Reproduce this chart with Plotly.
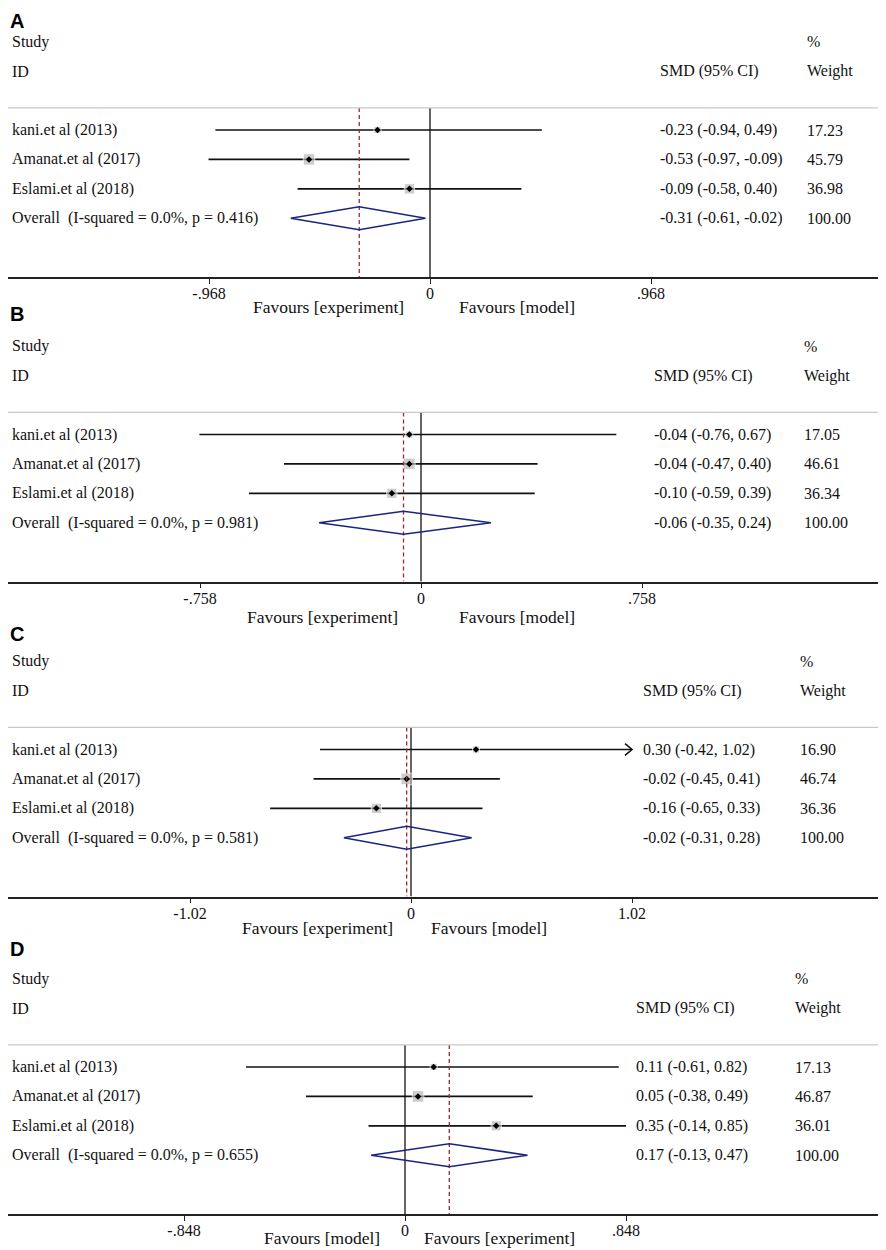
import math
import plotly.graph_objects as go

# study rows shared by all four forest plots
studies = ["kani.et al (2013)", "Amanat.et al (2017)", "Eslami.et al (2018)"]
panel_labels = ["A", "B", "C", "D"]

smd = [[-0.23, -0.53, -0.09], [-0.04, -0.04, -0.10], [0.30, -0.02, -0.16], [0.11, 0.05, 0.35]]
ci_low = [[-0.94, -0.97, -0.58], [-0.76, -0.47, -0.59], [-0.42, -0.45, -0.65], [-0.61, -0.38, -0.14]]
ci_high = [[0.49, -0.09, 0.40], [0.67, 0.40, 0.39], [1.02, 0.41, 0.33], [0.82, 0.49, 0.85]]
weights = [[17.23, 45.79, 36.98], [17.05, 46.61, 36.34], [16.90, 46.74, 36.36], [17.13, 46.87, 36.01]]
# intervals drawn with an arrow because they run off the scale
arrow_right = [[False, False, False], [False, False, False], [True, False, False], [False, False, False]]
pooled = [-0.31, -0.06, -0.02, 0.17]
pooled_low = [-0.61, -0.35, -0.31, -0.13]
pooled_high = [-0.02, 0.24, 0.28, 0.47]
i_squared = [0.0, 0.0, 0.0, 0.0]
p_values = [0.416, 0.981, 0.581, 0.655]
axis_max = [0.968, 0.758, 1.02, 0.848]
favours_left = ["Favours [experiment]", "Favours [experiment]", "Favours [experiment]", "Favours [model]"]
favours_right = ["Favours [model]", "Favours [model]", "Favours [model]", "Favours [experiment]"]

# page geometry, in pixels of the 886x1250 window (body margin of 8px taken off)
OFF = 8
W, H = 886 - OFF, 1250 - OFF
ROW = 29.4
zero_px = [430, 421, 411, 405]
tick_px = [651, 642, 632, 626]
axis_px = [277, 581.5, 896.5, 1214]
smd_col_px = [658, 652, 641, 634]
wt_col_px = [805, 802, 798, 793]
fav_y_px = [307, 617, 928, 1238]
fav_left_px = [328, 322, 317, 322]
fav_right_px = [517, 517, 489, 499]
letter_y_px = [12, 314, 634, 949]

SERIF = "Liberation Serif, Times New Roman, serif"
TXT = "#111111"
NAVY = "#1b2580"
RED = "#a3262c"


def tick_fmt(v):
    s = f"{v:g}"
    return s.replace("0.", ".", 1) if s.lstrip("-").startswith("0.") else s


def px_x(px):
    return (px - OFF) / W


def px_y(px):
    return 1 - (px - OFF) / H


fig = go.Figure()
annotations = []
shapes = []
layout = {}

for i in range(4):
    xa = "x" if i == 0 else f"x{i + 1}"
    ya = "y" if i == 0 else f"y{i + 1}"
    scale = (tick_px[i] - zero_px[i]) / axis_max[i]
    rows = list(range(len(studies)))
    overall_row = len(studies)

    # confidence intervals
    xs, ys = [], []
    for r in rows:
        xs += [ci_low[i][r], min(ci_high[i][r], axis_max[i]), None]
        ys += [r, r, None]
    fig.add_trace(go.Scatter(x=xs, y=ys, mode="lines", xaxis=xa, yaxis=ya,
                             line=dict(color="#111111", width=1.7), hoverinfo="skip"))

    # arrow where the interval runs off the scale
    for r in rows:
        if arrow_right[i][r]:
            end = axis_max[i]
            dx = 7 / scale
            fig.add_trace(go.Scatter(x=[end - dx, end, end - dx], y=[r - 0.2, r, r + 0.2],
                                     mode="lines", xaxis=xa, yaxis=ya,
                                     line=dict(color="#111111", width=1.6), hoverinfo="skip"))

    # reference line at 0
    fig.add_trace(go.Scatter(x=[0, 0], y=[-0.75, 5], mode="lines", xaxis=xa, yaxis=ya,
                             line=dict(color="#111111", width=1.3), hoverinfo="skip"))

    # weight boxes and point estimates
    fig.add_trace(go.Scatter(x=smd[i], y=rows, mode="markers", xaxis=xa, yaxis=ya,
                             marker=dict(symbol="square", color="#b8b8b8",
                                         size=[1.7 * math.sqrt(w) for w in weights[i]]),
                             hoverinfo="skip"))
    fig.add_trace(go.Scatter(x=smd[i], y=rows, mode="markers", xaxis=xa, yaxis=ya,
                             marker=dict(symbol="diamond", color="#000000", size=5),
                             hoverinfo="skip"))

    # pooled estimate line
    fig.add_trace(go.Scatter(x=[pooled[i], pooled[i]], y=[-0.75, 5], mode="lines",
                             xaxis=xa, yaxis=ya,
                             line=dict(color=RED, width=1.3, dash="4px,3px"), hoverinfo="skip"))

    # pooled diamond
    h = 0.39
    fig.add_trace(go.Scatter(
        x=[pooled_low[i], pooled[i], pooled_high[i], pooled[i], pooled_low[i]],
        y=[overall_row, overall_row - h, overall_row, overall_row + h, overall_row],
        mode="lines", xaxis=xa, yaxis=ya, line=dict(color=NAVY, width=1.6), hoverinfo="skip"))

    layout[("xaxis" if i == 0 else f"xaxis{i + 1}")] = dict(
        domain=[0, px_x(884)], anchor=ya,
        range=[(OFF - zero_px[i]) / scale, (884 - zero_px[i]) / scale],
        showgrid=False, zeroline=False, showline=True, linecolor="#222222", linewidth=1.6,
        ticks="outside", ticklen=5, tickwidth=1.2, tickcolor="#222222",
        ticklabelstandoff=-4,
        tickvals=[-axis_max[i], 0, axis_max[i]],
        ticktext=[tick_fmt(-axis_max[i]), "0", tick_fmt(axis_max[i])],
        tickfont=dict(family=SERIF, size=16, color=TXT),
    )
    layout[("yaxis" if i == 0 else f"yaxis{i + 1}")] = dict(
        domain=[px_y(axis_px[i]), px_y(axis_px[i] - 9 * ROW)], anchor=xa,
        range=[5, -4], visible=False, showgrid=False, zeroline=False,
    )

    # header divider
    shapes.append(dict(type="line", xref="paper", yref=ya, x0=0, x1=px_x(884),
                       y0=-0.75, y1=-0.75, line=dict(color="#c8c8c8", width=1.2)))

    def txt(text, x_px, row, anchor="left"):
        annotations.append(dict(text=text, xref="paper", yref=ya, x=px_x(x_px), y=row,
                                xanchor=anchor, yanchor="middle", showarrow=False,
                                font=dict(family=SERIF, size=16, color=TXT)))

    txt("Study", 10, -3)
    txt("ID", 10, -2)
    txt("SMD (95% CI)", smd_col_px[i], -2)
    txt("%", wt_col_px[i], -3)
    txt("Weight", wt_col_px[i], -2)
    for r in rows:
        txt(studies[r], 10, r)
        txt(f"{smd[i][r]:.2f} ({ci_low[i][r]:.2f}, {ci_high[i][r]:.2f})", smd_col_px[i], r)
        txt(f"{weights[i][r]:.2f}", wt_col_px[i], r)
    txt(f"Overall\u00a0\u00a0(I-squared = {i_squared[i]:.1f}%, p = {p_values[i]:.3f})", 10, overall_row)
    txt(f"{pooled[i]:.2f} ({pooled_low[i]:.2f}, {pooled_high[i]:.2f})", smd_col_px[i], overall_row)
    txt(f"{100:.2f}", wt_col_px[i], overall_row)

    for label, cx in [(favours_left[i], fav_left_px[i]), (favours_right[i], fav_right_px[i])]:
        annotations.append(dict(text=label, xref="paper", yref="paper", x=px_x(cx),
                                y=px_y(fav_y_px[i]), xanchor="center", yanchor="middle",
                                showarrow=False, font=dict(family=SERIF, size=17.5, color=TXT)))

    # panel letter; the top one is pinned to the upper edge so it is not clipped
    if letter_y_px[i] - 12 < OFF:
        ly, yanc = 1, "top"
    else:
        ly, yanc = px_y(letter_y_px[i]), "middle"
    annotations.append(dict(text=f"<b>{panel_labels[i]}</b>", xref="paper", yref="paper",
                            x=px_x(OFF), y=ly, xanchor="left", yanchor=yanc,
                            showarrow=False,
                            font=dict(family="Liberation Sans, Arial, sans-serif", size=20,
                                      color="#000000")))

fig.update_layout(
    width=W, height=H,
    margin=dict(l=0, r=0, t=0, b=0),
    paper_bgcolor="white", plot_bgcolor="white",
    showlegend=False,
    annotations=annotations, shapes=shapes,
    **layout,
)

fig.write_html("out.html")
